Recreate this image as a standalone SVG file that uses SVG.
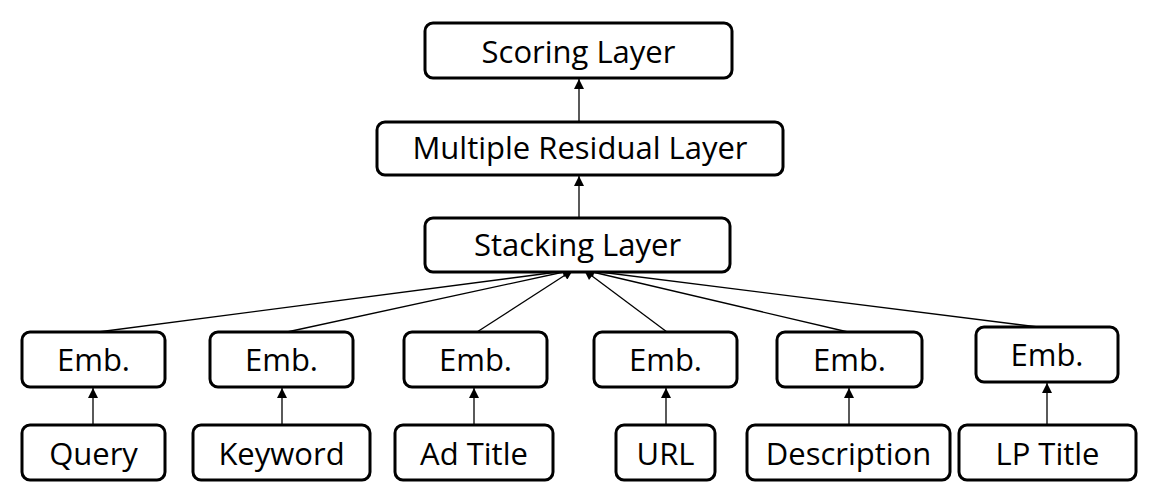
<svg xmlns="http://www.w3.org/2000/svg" width="1157" height="502" viewBox="0 0 1157 502">
<defs>
<style>
.box{fill:#fff;stroke:#000;stroke-width:3;}
.t{font-family:"Open Sans","Liberation Sans",sans-serif;font-size:31px;fill:#000;text-anchor:middle;}
.c{stroke:#000;stroke-width:1.3;fill:none;marker-end:url(#ah);}
</style>
<marker id="ah" viewBox="0 0 10 10" refX="10" refY="5" markerWidth="11" markerHeight="10" markerUnits="userSpaceOnUse" orient="auto">
<path d="M0,0 L10,5 L0,10 z" fill="#000"/>
</marker>
</defs>
<rect width="1157" height="502" fill="#fff"/>
<g id="connectors">
<line class="c" x1="579" y1="122" x2="579" y2="79"/>
<line class="c" x1="579" y1="218" x2="579" y2="176"/>
<line class="c" x1="98" y1="332" x2="573" y2="270"/>
<line class="c" x1="287" y1="332" x2="573" y2="270"/>
<line class="c" x1="477" y1="332" x2="573" y2="270"/>
<line class="c" x1="667" y1="332" x2="584" y2="270"/>
<line class="c" x1="848" y1="332" x2="584" y2="270"/>
<line class="c" x1="1038" y1="327" x2="584" y2="270"/>
<line class="c" x1="93" y1="425" x2="93" y2="388"/>
<line class="c" x1="282" y1="425" x2="282" y2="388"/>
<line class="c" x1="474" y1="425" x2="474" y2="388"/>
<line class="c" x1="666" y1="425" x2="666" y2="388"/>
<line class="c" x1="849" y1="425" x2="849" y2="388"/>
<line class="c" x1="1047" y1="425" x2="1047" y2="383"/>
</g>
<g id="scoring"><rect class="box" x="425" y="23" width="307" height="55" rx="8"/><text class="t" x="578.5" y="63">Scoring Layer</text></g>
<g id="residual"><rect class="box" x="377" y="122" width="406" height="53" rx="8"/><text class="t" x="580" y="159">Multiple Residual Layer</text></g>
<g id="stacking"><rect class="box" x="425" y="218" width="305" height="54" rx="8"/><text class="t" x="577.5" y="256">Stacking Layer</text></g>
<g id="emb1"><rect class="box" x="22" y="332" width="143" height="55" rx="8"/><text class="t" x="93.5" y="371">Emb.</text></g>
<g id="emb2"><rect class="box" x="210" y="332" width="143" height="55" rx="8"/><text class="t" x="281.5" y="371">Emb.</text></g>
<g id="emb3"><rect class="box" x="404" y="332" width="143" height="55" rx="8"/><text class="t" x="475.5" y="371">Emb.</text></g>
<g id="emb4"><rect class="box" x="594" y="332" width="143" height="55" rx="8"/><text class="t" x="665.5" y="371">Emb.</text></g>
<g id="emb5"><rect class="box" x="777" y="332" width="145" height="55" rx="8"/><text class="t" x="849.5" y="371">Emb.</text></g>
<g id="emb6"><rect class="box" x="976" y="327" width="142" height="55" rx="8"/><text class="t" x="1047" y="366">Emb.</text></g>
<g id="query"><rect class="box" x="22" y="425" width="143" height="55" rx="8"/><text class="t" x="93.5" y="465">Query</text></g>
<g id="keyword"><rect class="box" x="193" y="425" width="177" height="55" rx="8"/><text class="t" x="281.5" y="465">Keyword</text></g>
<g id="adtitle"><rect class="box" x="395" y="425" width="158" height="55" rx="8"/><text class="t" x="474" y="465">Ad Title</text></g>
<g id="url"><rect class="box" x="616" y="425" width="99" height="55" rx="8"/><text class="t" x="665.5" y="465">URL</text></g>
<g id="description"><rect class="box" x="747" y="425" width="203" height="55" rx="8"/><text class="t" x="848.5" y="465">Description</text></g>
<g id="lptitle"><rect class="box" x="959" y="425" width="177" height="55" rx="8"/><text class="t" x="1047.5" y="465">LP Title</text></g>
</svg>
